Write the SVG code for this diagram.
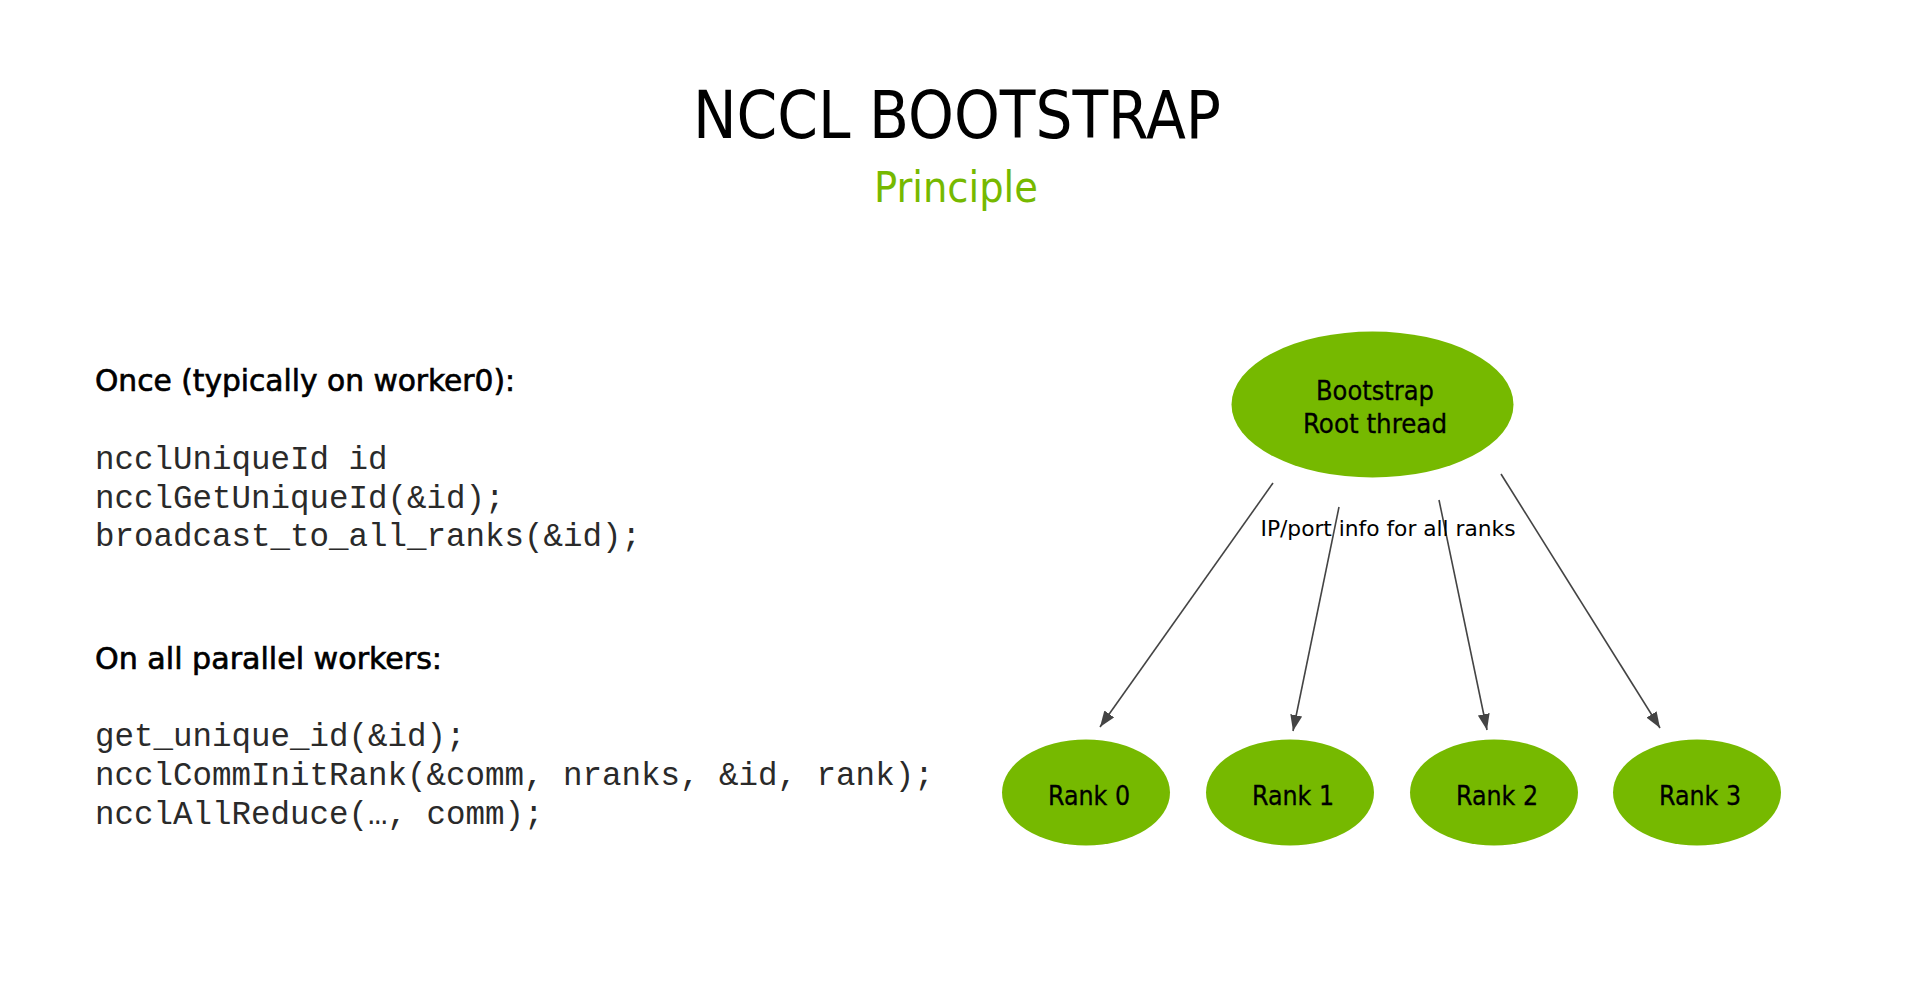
<svg xmlns="http://www.w3.org/2000/svg" width="1930" height="982" viewBox="0 0 1930 982">
<defs>
<style>
.sans{font-family:"DejaVu Sans Condensed","DejaVu Sans","Liberation Sans",sans-serif;font-stretch:condensed;fill:#000}
.head{stroke:#000;stroke-width:0.6px}
.code{font-family:"Liberation Mono","Courier New",monospace;font-size:32.5px;fill:#2a2a2a}
.node{fill:#76B900}
.lbl{font-size:27px;text-anchor:middle;stroke:#000;stroke-width:0.3px}
.edge{stroke:#444;stroke-width:1.6;fill:none}
</style>
<marker id="ah" viewBox="0 0 16 12" refX="16" refY="6" markerWidth="16" markerHeight="12" markerUnits="userSpaceOnUse" orient="auto">
<path d="M0,0 L16,6 L0,12 z" fill="#444"/>
</marker>
</defs>
<rect width="1930" height="982" fill="#fff"/>
<g id="title">
<text class="sans" x="957" y="138" font-size="66" text-anchor="middle" textLength="528" lengthAdjust="spacingAndGlyphs">NCCL BOOTSTRAP</text>
<text class="sans" x="956" y="202" font-size="42" text-anchor="middle" textLength="164" lengthAdjust="spacingAndGlyphs" style="fill:#76B900">Principle</text>
</g>
<g id="code-once">
<text class="sans head" x="95" y="391" font-size="30" textLength="420" lengthAdjust="spacingAndGlyphs">Once (typically on worker0):</text>
<text class="code" x="95" y="469">ncclUniqueId id</text>
<text class="code" x="95" y="507.5">ncclGetUniqueId(&amp;id);</text>
<text class="code" x="95" y="546">broadcast_to_all_ranks(&amp;id);</text>
</g>
<g id="code-all">
<text class="sans head" x="95" y="669" font-size="30" textLength="347" lengthAdjust="spacingAndGlyphs">On all parallel workers:</text>
<text class="code" x="95" y="746">get_unique_id(&amp;id);</text>
<text class="code" x="95" y="785">ncclCommInitRank(&amp;comm, nranks, &amp;id, rank);</text>
<text class="code" x="95" y="824">ncclAllReduce(…, comm);</text>
</g>
<g id="connectors">
<line class="edge" x1="1273" y1="483" x2="1100" y2="727" marker-end="url(#ah)"/>
<line class="edge" x1="1339" y1="507" x2="1293" y2="731" marker-end="url(#ah)"/>
<line class="edge" x1="1439" y1="500" x2="1487" y2="730" marker-end="url(#ah)"/>
<line class="edge" x1="1501" y1="474" x2="1660" y2="728" marker-end="url(#ah)"/>
<text class="sans" x="1388" y="536" font-size="22" text-anchor="middle" textLength="255" lengthAdjust="spacingAndGlyphs">IP/port info for all ranks</text>
</g>
<g id="bootstrap">
<ellipse class="node" cx="1372.5" cy="404.5" rx="141" ry="73"/>
<text class="sans lbl" x="1375" y="400" textLength="118" lengthAdjust="spacingAndGlyphs">Bootstrap</text>
<text class="sans lbl" x="1375" y="433" textLength="144" lengthAdjust="spacingAndGlyphs">Root thread</text>
</g>
<g id="rank0">
<ellipse class="node" cx="1086" cy="792.5" rx="84" ry="53"/>
<text class="sans lbl" x="1089" y="805" textLength="82" lengthAdjust="spacingAndGlyphs">Rank 0</text>
</g>
<g id="rank1">
<ellipse class="node" cx="1290" cy="792.5" rx="84" ry="53"/>
<text class="sans lbl" x="1293" y="805" textLength="82" lengthAdjust="spacingAndGlyphs">Rank 1</text>
</g>
<g id="rank2">
<ellipse class="node" cx="1494" cy="792.5" rx="84" ry="53"/>
<text class="sans lbl" x="1497" y="805" textLength="82" lengthAdjust="spacingAndGlyphs">Rank 2</text>
</g>
<g id="rank3">
<ellipse class="node" cx="1697" cy="792.5" rx="84" ry="53"/>
<text class="sans lbl" x="1700" y="805" textLength="82" lengthAdjust="spacingAndGlyphs">Rank 3</text>
</g>
</svg>
